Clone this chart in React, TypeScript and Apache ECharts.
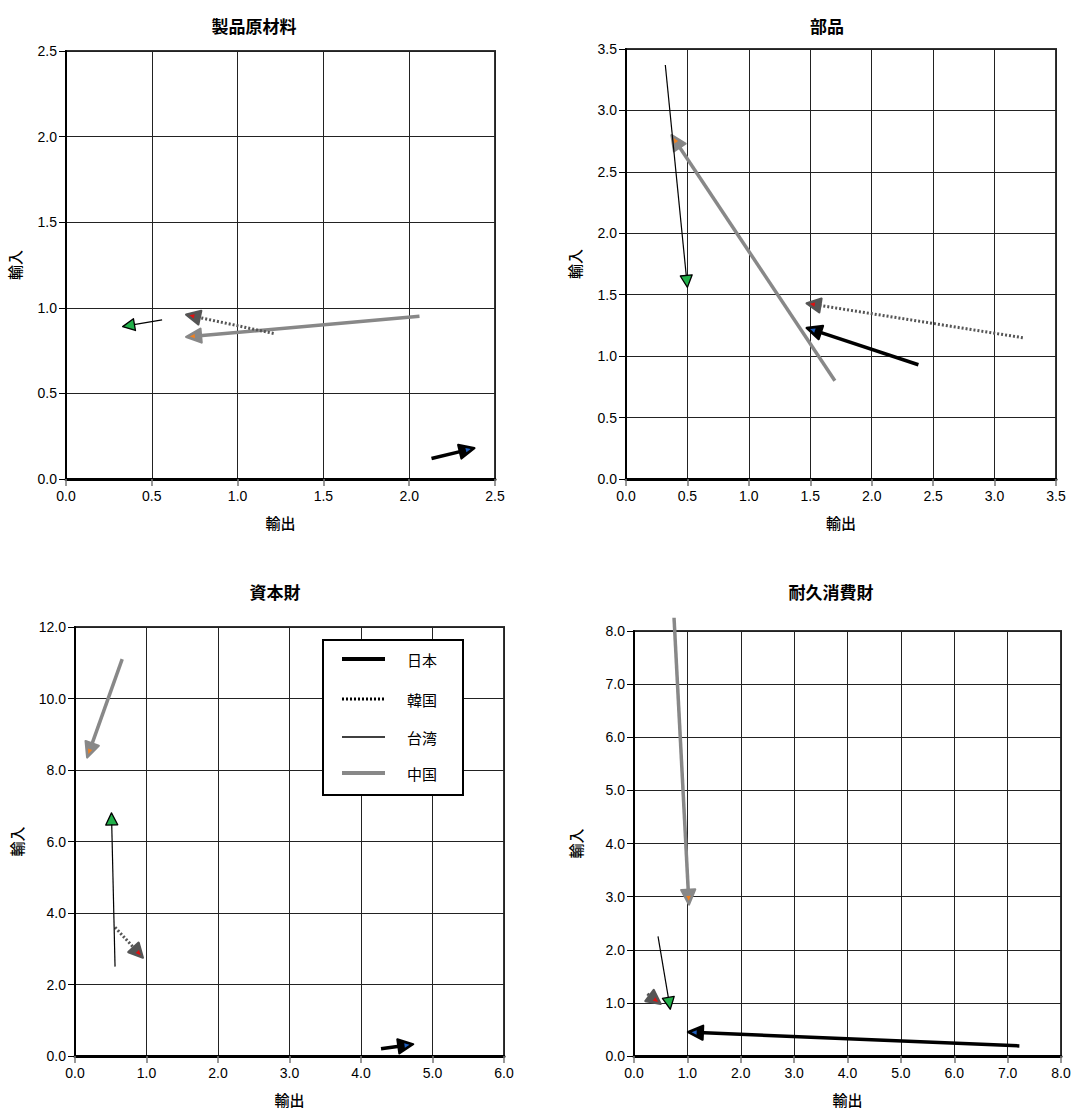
import React, { useEffect, useRef } from "react";
import * as echarts from "echarts";

// ---- data ----
const panelTitles = ["製品原材料", "部品", "資本財", "耐久消費財"];
const xMax = [2.5, 3.5, 6, 8];
const xStep = [0.5, 0.5, 1, 1];
const yMax = [2.5, 3.5, 12, 8];
const yStep = [0.5, 0.5, 2, 1];
const xAxisName = "輸出";
const yAxisName = "輸入";
const countryNames = ["日本", "韓国", "台湾", "中国"];

// each row: [fromX, fromY, toX, toY] per panel
const japan = [
  [2.13, 0.12, 2.38, 0.18],
  [2.38, 0.93, 1.47, 1.23],
  [4.28, 0.2, 4.73, 0.33],
  [7.22, 0.19, 1.01, 0.45],
];
const korea = [
  [1.21, 0.85, 0.7, 0.96],
  [3.23, 1.15, 1.47, 1.43],
  [0.56, 3.6, 0.95, 2.75],
  [0.25, 1.17, 0.5, 0.98],
];
const taiwan = [
  [0.56, 0.93, 0.33, 0.89],
  [0.32, 3.37, 0.5, 1.56],
  [0.56, 2.5, 0.51, 6.8],
  [0.45, 2.25, 0.68, 0.88],
];
const china = [
  [2.06, 0.95, 0.7, 0.83],
  [1.7, 0.8, 0.37, 2.8],
  [0.66, 11.1, 0.17, 8.35],
  [0.75, 8.25, 1.03, 2.85],
];
const countryData = [japan, korea, taiwan, china];

// ---- styles ----
const countryStyles = [
  { color: "#000000", width: 3.5, dash: null as number[] | null, headFill: "#000000", headStroke: "#000000", dot: "#1f5fbf" as string | null, L: 15, W: 7 },
  { color: "#555555", width: 3, dash: [2, 2], headFill: "#555555", headStroke: "#555555", dot: "#e01010", L: 14, W: 7 },
  { color: "#000000", width: 1.2, dash: null, headFill: "#22b04a", headStroke: "#000000", dot: null, L: 12, W: 6 },
  { color: "#888888", width: 3.5, dash: null, headFill: "#888888", headStroke: "#888888", dot: "#f08020", L: 15, W: 7 },
];
const legendLineStyles = [
  { stroke: "#000", lineWidth: 4, lineDash: null as number[] | null },
  { stroke: "#000", lineWidth: 3, lineDash: [2, 2] },
  { stroke: "#000", lineWidth: 1.5, lineDash: null },
  { stroke: "#888", lineWidth: 4, lineDash: null },
];
const grids = [
  { left: 66, top: 51, width: 429, height: 428 },
  { left: 626, top: 49, width: 430, height: 430 },
  { left: 75, top: 627, width: 429, height: 429 },
  { left: 634, top: 631, width: 427, height: 425 },
];
const titlePos = [
  { x: 249, y: 12 },
  { x: 822, y: 12 },
  { x: 270, y: 578 },
  { x: 826, y: 578 },
];
const yNameGap = [44, 44, 51, 51];
const legendBox = { x: 323, y: 640, w: 140, h: 155 };
const legendRowY = [659, 699, 737, 773];

function makeRender(ci: number) {
  const st = countryStyles[ci];
  return (params: any, api: any) => {
    const a = api.coord([api.value(0), api.value(1)]);
    const b = api.coord([api.value(2), api.value(3)]);
    const dx = b[0] - a[0];
    const dy = b[1] - a[1];
    const len = Math.hypot(dx, dy) || 1;
    const ux = dx / len;
    const uy = dy / len;
    const nx = -uy;
    const ny = ux;
    const L = st.L;
    const W = st.W;
    const base = [b[0] - ux * L, b[1] - uy * L];
    const p1 = [base[0] + nx * W, base[1] + ny * W];
    const p2 = [base[0] - nx * W, base[1] - ny * W];
    const le = [b[0] - ux * L * 0.7, b[1] - uy * L * 0.7];
    const children: any[] = [
      {
        type: "line",
        shape: { x1: a[0], y1: a[1], x2: le[0], y2: le[1] },
        style: {
          stroke: st.color,
          lineWidth: st.width,
          lineDash: st.dash || undefined,
          fill: null,
        },
      },
      {
        type: "polygon",
        shape: { points: [b, p1, p2] },
        style: {
          fill: st.headFill,
          stroke: st.headStroke,
          lineWidth: ci === 2 ? 1.3 : 2.2,
          lineJoin: "round",
        },
      },
    ];
    if (st.dot) {
      const c = [b[0] - ux * L * 0.45, b[1] - uy * L * 0.45];
      children.push({
        type: "polygon",
        shape: {
          points: [
            [c[0] + ux * 3, c[1] + uy * 3],
            [c[0] - ux * 2 + nx * 2.2, c[1] - uy * 2 + ny * 2.2],
            [c[0] - ux * 2 - nx * 2.2, c[1] - uy * 2 - ny * 2.2],
          ],
        },
        style: { fill: st.dot },
      });
    }
    return { type: "group", children };
  };
}

const FONT = "'Noto Sans CJK JP', 'Noto Sans', sans-serif";
const NUM_FONT = "'Liberation Sans', Arial, sans-serif";

export default function App() {
  const ref = useRef<HTMLDivElement>(null);
  useEffect(() => {
    document.body.style.margin = "0";
    const chart = echarts.init(ref.current!, null, { renderer: "svg" });

    const xAxes = grids.map((_, i) => ({
      type: "value",
      gridIndex: i,
      min: 0,
      max: xMax[i],
      interval: xStep[i],
      name: xAxisName,
      nameLocation: "middle",
      nameGap: 36,
      nameTextStyle: { fontSize: 15, fontWeight: 500, color: "#000", fontFamily: FONT },
      axisLine: { show: true, onZero: false, lineStyle: { color: "#000", width: 3 } },
      axisTick: { show: true, inside: false, length: 7, lineStyle: { color: "#777", width: 1.5 } },
      axisLabel: {
        color: "#000",
        fontSize: 14,
        margin: 10,
        fontFamily: NUM_FONT,
        formatter: (v: number) => v.toFixed(1),
      },
      splitLine: { show: true, lineStyle: { color: "#222", width: 1 } },
    }));
    const yAxes = grids.map((_, i) => ({
      type: "value",
      gridIndex: i,
      min: 0,
      max: yMax[i],
      interval: yStep[i],
      name: yAxisName,
      nameLocation: "middle",
      nameGap: yNameGap[i],
      nameTextStyle: { fontSize: 15, fontWeight: 500, color: "#000", fontFamily: FONT },
      axisLine: { show: true, onZero: false, lineStyle: { color: "#000", width: 2 } },
      axisTick: { show: true, inside: false, length: 7, lineStyle: { color: "#000", width: 1 } },
      axisLabel: {
        color: "#000",
        fontSize: 14,
        margin: 9,
        fontFamily: NUM_FONT,
        formatter: (v: number) => v.toFixed(1),
      },
      splitLine: { show: true, lineStyle: { color: "#222", width: 1 } },
    }));

    const arrowSeries: any[] = [];
    for (let p = 0; p < 4; p++) {
      for (let ci = 0; ci < 4; ci++) {
        arrowSeries.push({
          type: "custom",
          name: countryNames[ci] + "-" + p,
          xAxisIndex: p,
          yAxisIndex: p,
          clip: false,
          silent: true,
          renderItem: makeRender(ci),
          encode: { x: [0, 2], y: [1, 3] },
          data: [countryData[ci][p]],
          z: ci === 3 ? 3 : 4,
        });
      }
    }

    const legendGraphics: any[] = [
      {
        type: "rect",
        shape: { x: legendBox.x, y: legendBox.y, width: legendBox.w, height: legendBox.h },
        style: { fill: "#fff", stroke: "#000", lineWidth: 2 },
        z: 10,
      },
    ];
    countryNames.forEach((name, i) => {
      const ls = legendLineStyles[i];
      legendGraphics.push({
        type: "line",
        shape: { x1: 342, y1: legendRowY[i], x2: 385, y2: legendRowY[i] },
        style: { stroke: ls.stroke, lineWidth: ls.lineWidth, lineDash: ls.lineDash || undefined },
        z: 11,
      });
      legendGraphics.push({
        type: "text",
        x: 407,
        y: legendRowY[i],
        style: {
          text: name,
          fill: "#000",
          font: "15px 'Noto Sans CJK JP', sans-serif",
          textVerticalAlign: "middle",
          verticalAlign: "middle",
        },
        z: 11,
      });
    });

    chart.setOption({
      animation: false,
      backgroundColor: "#fff",
      textStyle: { fontFamily: FONT },
      title: panelTitles.map((t, i) => ({
        text: t,
        left: titlePos[i].x,
        top: titlePos[i].y,
        textAlign: "center",
        textStyle: { fontSize: 17, fontWeight: "bold", color: "#000", fontFamily: FONT },
      })),
      grid: grids.map((g) => ({
        ...g,
        show: true,
        borderColor: "#333",
        borderWidth: 2,
        backgroundColor: "transparent",
        containLabel: false,
      })),
      xAxis: xAxes,
      yAxis: yAxes,
      graphic: legendGraphics,
      series: arrowSeries,
    });
    return () => chart.dispose();
  }, []);
  return <div ref={ref} style={{ width: 1074, height: 1115 }} />;
}
